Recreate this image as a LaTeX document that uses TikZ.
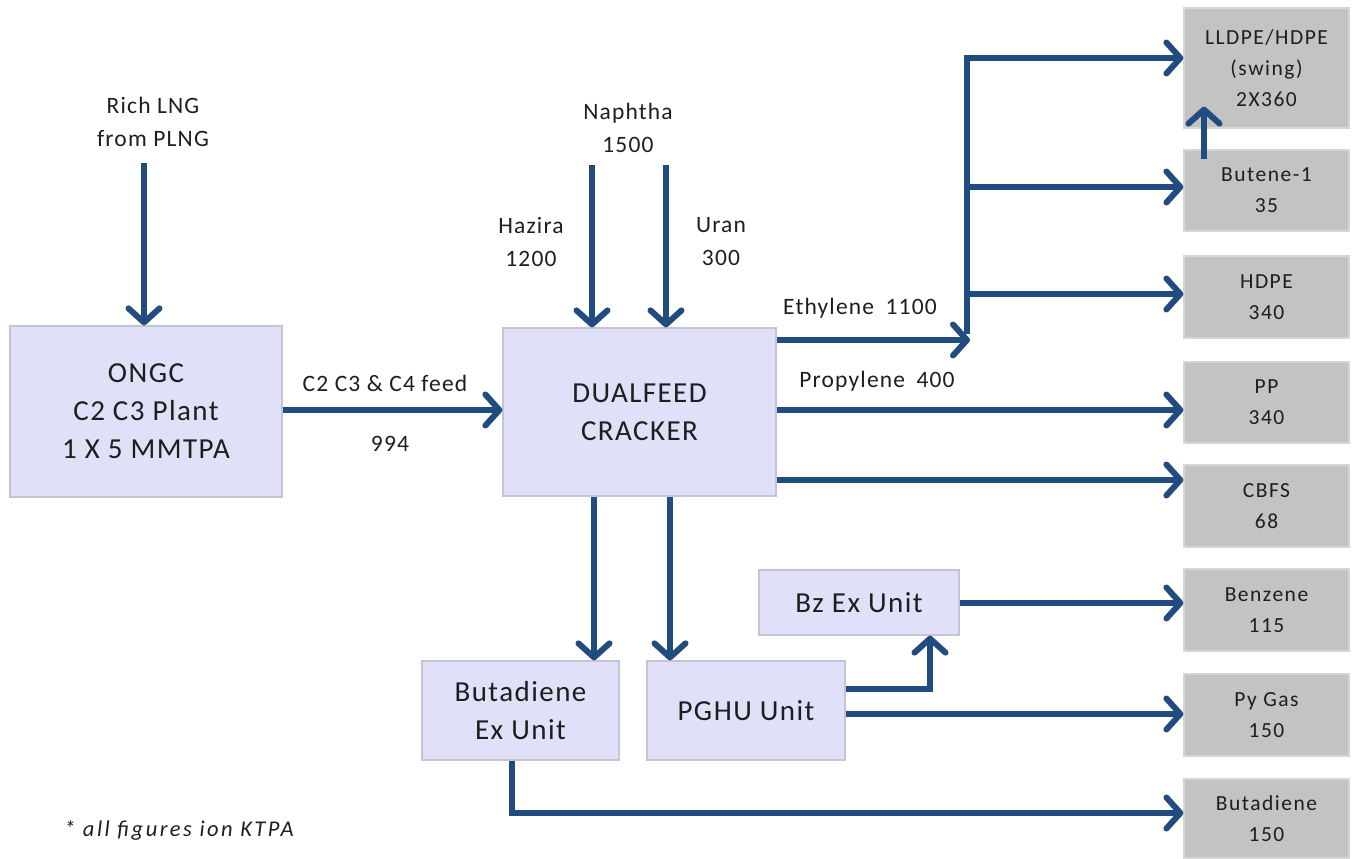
\documentclass[tikz,border=0pt]{standalone}
\usepackage{fontspec}
\setmainfont{Carlito}
\newfontfamily\unitfont[LetterSpace=5]{Carlito}
\newfontfamily\prodfont[LetterSpace=7]{Carlito}
\newfontfamily\lblfont[LetterSpace=5]{Carlito}
\newfontfamily\notefont[LetterSpace=11]{Carlito}
\usetikzlibrary{arrows.meta,calc}
\definecolor{flow}{HTML}{214C80}
\definecolor{unitfill}{HTML}{E0E0F8}
\definecolor{unitline}{HTML}{C4C4D4}
\definecolor{prodfill}{HTML}{C3C3C3}
\definecolor{prodline}{HTML}{D6D6D6}
\definecolor{txt}{HTML}{1E1E1E}
\begin{document}
\begin{tikzpicture}[x=1pt,y=-1pt,
  unit/.style={draw=unitline,line width=1.2pt,fill=unitfill,inner sep=0pt,align=center,text=txt,font=\unitfont\fontsize{29}{38}\selectfont},
  prod/.style={draw=prodline,line width=1.2pt,fill=prodfill,inner sep=0pt,align=center,text=txt,font=\prodfont\fontsize{21.5}{31}\selectfont,minimum width=165pt},
  lbl/.style={align=center,text=txt,font=\lblfont\fontsize{23.5}{33}\selectfont,inner sep=0pt},
  arr/.style={draw=flow,line width=6pt,-{Straight Barb[length=14pt,width=31pt,line width=6pt,round]}},
  ln/.style={draw=flow,line width=6pt}]
\useasboundingbox (0,0) rectangle (1358,859);
% process units
\node[unit,minimum width=272pt,minimum height=171pt] (ongc) at (146,411.5) {ONGC\\C2 C3 Plant\\1 X 5 MMTPA};
\node[unit,minimum width=273pt,minimum height=168pt] (crk) at (639.5,412) {DUALFEED\\CRACKER};
\node[unit,minimum width=197pt,minimum height=99pt] (bdx) at (520.5,710.5) {Butadiene\\Ex Unit};
\node[unit,minimum width=198pt,minimum height=99pt] (pghu) at (746,710.5) {PGHU Unit};
\node[unit,minimum width=200pt,minimum height=65pt] (bz) at (859,602.5) {Bz Ex Unit};
% products
\node[prod,minimum height=120pt] (ll) at (1266.5,68) {LLDPE/HDPE\\(swing)\\2X360};
\node[prod,minimum height=81pt] (bt) at (1266.5,190.5) {Butene-1\\35};
\node[prod,minimum height=82pt] (hd) at (1266.5,297) {HDPE\\340};
\node[prod,minimum height=81pt] (pp) at (1266.5,402.5) {PP\\340};
\node[prod,minimum height=82pt] (cb) at (1266.5,506) {CBFS\\68};
\node[prod,minimum height=82pt] (bn) at (1266.5,610) {Benzene\\115};
\node[prod,minimum height=82pt] (pg) at (1266.5,715) {Py Gas\\150};
\node[prod,minimum height=79pt] (bd) at (1266.5,818.5) {Butadiene\\150};
% labels
\node[lbl] (lng) at (153,122) {Rich LNG\\from PLNG};
\node[lbl] (nap) at (628,128) {Naphtha\\1500};
\node[lbl] (haz) at (531,242) {Hazira\\1200};
\node[lbl] (ura) at (721,242) {Uran\\300};
\node[lbl] (feed) at (385,383) {C2 C3 \& C4 feed};
\node[lbl] (n994) at (390,444) {994};
\node[lbl] (eth) at (860,308) {Ethylene\hspace{5pt} 1100};
\node[lbl] (pro) at (877,381) {Propylene\hspace{5pt} 400};
\node[lbl,anchor=west,font=\notefont\fontsize{22.5}{24}\selectfont\itshape] (note) at (64,830) {* all figures ion KTPA};
% feed arrows
\coordinate (lngs) at (144,163);
\coordinate (hazs) at (592,165);
\coordinate (uras) at (666,165);
\draw[arr] (lngs) -- (lngs |- ongc.north);
\draw[arr] (hazs) -- (hazs |- crk.north);
\draw[arr] (uras) -- (uras |- crk.north);
\draw[arr] (ongc.east |- 0,410) -- (crk.west |- 0,410);
% ethylene header
\coordinate (hdr) at (967,340);
\draw[arr] (crk.east |- hdr) -- ([xshift=3pt]hdr);
\draw[ln] ([yshift=6pt]hdr) -- (967,58);
\draw[arr] (964,58) -- (ll.west |- 0,58);
\draw[arr] (967,187) -- (bt.west |- 0,187);
\draw[arr] (967,294) -- (hd.west |- 0,294);
\draw[arr] ($(bt.north)+(-62.5,10)$) -- ($(ll.south)+(-62.5,-22)$);
% cracker products
\draw[arr] (crk.east |- 0,410) -- (pp.west |- 0,410);
\draw[arr] (crk.east |- 0,480) -- (cb.west |- 0,480);
\draw[arr] (crk.south -| 594,0) -- (bdx.north -| 594,0);
\draw[arr] (crk.south -| 670,0) -- (pghu.north -| 670,0);
% aromatics
\draw[arr] (bz.east |- 0,603) -- (bn.west |- 0,603);
\draw[arr] (pghu.east |- 0,689) -- (930,689) -- (bz.south -| 930,0);
\draw[arr] (pghu.east |- 0,714) -- (pg.west |- 0,714);
\draw[arr] (bdx.south -| 512,0) -- (512,813) -- (bd.west |- 0,813);
\end{tikzpicture}
\end{document}
